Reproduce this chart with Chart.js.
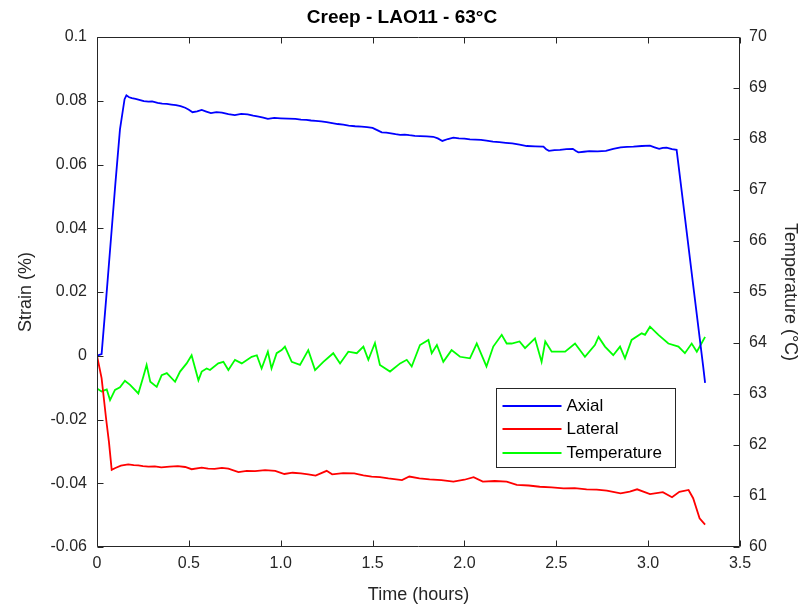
<!DOCTYPE html>
<html>
<head>
<meta charset="utf-8">
<script src="https://cdn.jsdelivr.net/npm/chart.js@4/dist/chart.umd.min.js"></script>
<style>
  html, body { margin: 0; padding: 0; background: #fff; }
</style>
</head>
<body>
<canvas id="myChart" width="804" height="609"></canvas>
<script>
// values
const axialHours = [0, 0.025, 0.05, 0.075, 0.1, 0.125, 0.15, 0.16, 0.175, 0.19, 0.21, 0.23, 0.255, 0.28, 0.3, 0.33, 0.355, 0.38, 0.405, 0.43, 0.455, 0.48, 0.5, 0.52, 0.545, 0.57, 0.595, 0.62, 0.65, 0.68, 0.715, 0.75, 0.785, 0.82, 0.85, 0.88, 0.905, 0.93, 0.965, 1.0, 1.04, 1.08, 1.11, 1.14, 1.165, 1.19, 1.22, 1.25, 1.28, 1.31, 1.34, 1.37, 1.405, 1.44, 1.47, 1.5, 1.525, 1.55, 1.575, 1.6, 1.625, 1.65, 1.675, 1.7, 1.73, 1.76, 1.795, 1.83, 1.855, 1.88, 1.91, 1.94, 1.97, 2.0, 2.03, 2.06, 2.09, 2.12, 2.155, 2.19, 2.225, 2.26, 2.3, 2.34, 2.385, 2.43, 2.445, 2.46, 2.49, 2.52, 2.555, 2.59, 2.605, 2.62, 2.65, 2.68, 2.725, 2.77, 2.81, 2.85, 2.885, 2.92, 2.965, 3.01, 3.035, 3.06, 3.08, 3.1, 3.13, 3.155, 3.2, 3.25, 3.3, 3.31];
const axialStrain = [0, 0.0005, 0.018, 0.036, 0.054, 0.071, 0.0805, 0.0817, 0.0811, 0.0808, 0.0806, 0.0803, 0.0799, 0.0797, 0.0798, 0.0793, 0.0791, 0.079, 0.0788, 0.0786, 0.0783, 0.0778, 0.0772, 0.0764, 0.0767, 0.0771, 0.0766, 0.0761, 0.0764, 0.0763, 0.0758, 0.0755, 0.0759, 0.0757, 0.0753, 0.075, 0.0747, 0.0743, 0.0746, 0.0745, 0.0744, 0.0743, 0.0741, 0.074, 0.0738, 0.0737, 0.0735, 0.0733, 0.073, 0.0727, 0.0725, 0.0722, 0.072, 0.0719, 0.0717, 0.0715, 0.0708, 0.0701, 0.07, 0.0698, 0.0695, 0.0693, 0.0694, 0.0692, 0.069, 0.0689, 0.0688, 0.0687, 0.0682, 0.0674, 0.068, 0.0684, 0.0682, 0.0681, 0.0679, 0.0678, 0.0677, 0.0675, 0.0672, 0.067, 0.0668, 0.0666, 0.0662, 0.0658, 0.0657, 0.0656, 0.0648, 0.0643, 0.0645, 0.0646, 0.0648, 0.0649, 0.0643, 0.0638, 0.064, 0.0642, 0.0641, 0.0643, 0.0649, 0.0654, 0.0655, 0.0656, 0.0658, 0.0659, 0.0654, 0.0649, 0.0652, 0.0653, 0.0648, 0.0646, 0.0435, 0.0199, -0.0036, -0.0085];

const lateralHours = [0, 0.025, 0.05, 0.065, 0.08, 0.1, 0.13, 0.17, 0.2, 0.225, 0.25, 0.28, 0.315, 0.35, 0.395, 0.44, 0.48, 0.515, 0.57, 0.605, 0.64, 0.68, 0.715, 0.77, 0.815, 0.86, 0.915, 0.97, 1.02, 1.065, 1.11, 1.15, 1.19, 1.25, 1.28, 1.34, 1.4, 1.45, 1.495, 1.54, 1.586, 1.66, 1.7, 1.755, 1.81, 1.875, 1.94, 2.0, 2.05, 2.1, 2.165, 2.23, 2.285, 2.35, 2.41, 2.475, 2.54, 2.6, 2.665, 2.72, 2.775, 2.85, 2.9, 2.94, 3.01, 3.08, 3.13, 3.17, 3.22, 3.245, 3.28, 3.31];
const lateralStrain = [0, -0.007, -0.02, -0.027, -0.0358, -0.0352, -0.0345, -0.0341, -0.0343, -0.0344, -0.0346, -0.0348, -0.0347, -0.035, -0.0348, -0.0346, -0.0349, -0.0356, -0.0351, -0.0354, -0.0355, -0.0352, -0.0354, -0.0365, -0.0361, -0.0362, -0.0359, -0.0361, -0.0371, -0.0367, -0.0369, -0.0372, -0.0376, -0.0361, -0.0372, -0.0368, -0.0369, -0.0375, -0.0379, -0.0381, -0.0385, -0.039, -0.0379, -0.0385, -0.0388, -0.039, -0.0395, -0.0389, -0.0381, -0.0395, -0.0393, -0.0395, -0.0405, -0.0407, -0.0411, -0.0413, -0.0416, -0.0415, -0.0419, -0.042, -0.0423, -0.0432, -0.0426, -0.0419, -0.0434, -0.0428, -0.0444, -0.0427, -0.0421, -0.0447, -0.051, -0.053];

const tempHours = [0, 0.025, 0.053, 0.071, 0.098, 0.125, 0.152, 0.18, 0.225, 0.252, 0.27, 0.29, 0.325, 0.352, 0.38, 0.425, 0.452, 0.488, 0.515, 0.552, 0.57, 0.597, 0.615, 0.66, 0.688, 0.715, 0.751, 0.788, 0.842, 0.87, 0.896, 0.93, 0.95, 0.978, 1.005, 1.023, 1.06, 1.105, 1.15, 1.187, 1.232, 1.286, 1.323, 1.368, 1.414, 1.45, 1.477, 1.513, 1.54, 1.595, 1.65, 1.686, 1.713, 1.758, 1.804, 1.822, 1.85, 1.885, 1.93, 1.976, 2.03, 2.067, 2.12, 2.157, 2.203, 2.23, 2.257, 2.3, 2.33, 2.384, 2.42, 2.44, 2.475, 2.548, 2.602, 2.656, 2.71, 2.73, 2.765, 2.81, 2.847, 2.874, 2.91, 2.965, 2.983, 3.01, 3.056, 3.11, 3.165, 3.2, 3.237, 3.265, 3.29, 3.31];
const tempC = [63.11, 63.05, 63.09, 62.88, 63.08, 63.13, 63.26, 63.18, 63.01, 63.34, 63.57, 63.24, 63.14, 63.37, 63.41, 63.24, 63.44, 63.6, 63.76, 63.27, 63.44, 63.5, 63.47, 63.6, 63.63, 63.47, 63.67, 63.6, 63.73, 63.76, 63.5, 63.83, 63.5, 63.8, 63.86, 63.93, 63.63, 63.57, 63.86, 63.47, 63.63, 63.8, 63.6, 63.83, 63.8, 63.93, 63.67, 64.0, 63.57, 63.44, 63.6, 63.67, 63.54, 63.96, 64.06, 63.8, 63.96, 63.63, 63.86, 63.73, 63.7, 63.99, 63.54, 63.93, 64.16, 63.99, 63.99, 64.03, 63.9, 64.09, 63.63, 64.03, 63.83, 63.83, 63.99, 63.73, 63.96, 64.12, 63.93, 63.76, 63.93, 63.7, 64.06, 64.19, 64.16, 64.32, 64.16, 63.99, 63.93, 63.8, 63.99, 63.83, 63.99, 64.12];

const seriesNames = ['Axial', 'Lateral', 'Temperature'];

const font = '"Liberation Sans", Arial, sans-serif';
const ink = '#262626';

function pts(xs, ys) {
  return xs.map((x, i) => ({ x: x, y: ys[i] }));
}

// matlab style box with inward ticks
const boxTicks = {
  id: 'boxTicks',
  afterDatasetsDraw(chart) {
    const c = chart.ctx, a = chart.chartArea, s = chart.scales;
    const L = Math.round(a.left) + 0.5, R = Math.round(a.right) - 0.5;
    const T = Math.round(a.top) + 0.5, B = Math.round(a.bottom) - 0.5;
    c.save();
    c.strokeStyle = ink;
    c.lineWidth = 1;
    c.beginPath();
    c.rect(L, T, R - L, B - T);
    s.x.ticks.forEach(t => {
      const px = Math.round(s.x.getPixelForValue(t.value)) + 0.5;
      c.moveTo(px, B); c.lineTo(px, B - 6);
      c.moveTo(px, T); c.lineTo(px, T + 6);
    });
    s.y.ticks.forEach(t => {
      const py = Math.round(s.y.getPixelForValue(t.value)) + 0.5;
      c.moveTo(L, py); c.lineTo(L + 6, py);
    });
    s.y1.ticks.forEach(t => {
      const py = Math.round(s.y1.getPixelForValue(t.value)) + 0.5;
      c.moveTo(R, py); c.lineTo(R - 6, py);
    });
    c.stroke();
    c.restore();
  }
};

const legendBox = {
  id: 'legendBox',
  afterDraw(chart) {
    const c = chart.ctx;
    const x = 496.5, y = 388.5, w = 179, h = 79;
    c.save();
    c.fillStyle = '#fff';
    c.fillRect(x, y, w, h);
    c.strokeStyle = ink;
    c.lineWidth = 1;
    c.strokeRect(x, y, w, h);
    c.font = '17px ' + font;
    c.textBaseline = 'middle';
    chart.data.datasets.forEach((ds, i) => {
      const ry = Math.round(y + 17 + i * 23.8);
      c.strokeStyle = ds.borderColor;
      c.lineWidth = 2;
      c.beginPath();
      c.moveTo(x + 6, ry);
      c.lineTo(x + 65, ry);
      c.stroke();
      c.fillStyle = '#000';
      c.fillText(ds.label, x + 70, ry);
    });
    c.restore();
  }
};

const ctx = document.getElementById('myChart');

new Chart(ctx, {
  type: 'line',
  data: {
    datasets: [{
      label: seriesNames[0],
      data: pts(axialHours, axialStrain),
      borderColor: '#0000ff',
      yAxisID: 'y'
    }, {
      label: seriesNames[1],
      data: pts(lateralHours, lateralStrain),
      borderColor: '#ff0000',
      yAxisID: 'y'
    }, {
      label: seriesNames[2],
      data: pts(tempHours, tempC),
      borderColor: '#00ff00',
      yAxisID: 'y1'
    }]
  },
  options: {
    responsive: false,
    animation: false,
    devicePixelRatio: 1,
    elements: {
      point: { radius: 0 },
      line: { borderWidth: 1.8, tension: 0 }
    },
    layout: { padding: 0 },
    plugins: {
      legend: { display: false },
      tooltip: { enabled: false },
      title: {
        display: true,
        text: 'Creep - LAO11 - 63°C',
        color: '#000',
        font: { family: font, size: 19, weight: 'bold' },
        padding: { top: 6, bottom: 8.2 }
      }
    },
    scales: {
      x: {
        type: 'linear',
        min: 0,
        max: 3.5,
        grid: { display: false, drawTicks: false },
        border: { display: false },
        ticks: { stepSize: 0.5, color: ink, padding: 7, maxRotation: 0, font: { family: font, size: 16 } },
        title: { display: true, text: 'Time (hours)', color: ink, font: { family: font, size: 18 }, padding: { top: 0, bottom: 3 } },
        afterFit: s => { s.height = 62; }
      },
      y: {
        position: 'left',
        min: -0.06,
        max: 0.1,
        grid: { display: false, drawTicks: false },
        border: { display: false },
        ticks: {
          stepSize: 0.02,
          color: ink,
          padding: 10,
          font: { family: font, size: 16 },
          callback: v => String(Number(v.toFixed(2)))
        },
        title: { display: true, text: 'Strain (%)', color: ink, font: { family: font, size: 18 }, padding: { top: 15, bottom: 0 } },
        afterFit: s => { s.width = 97; }
      },
      y1: {
        position: 'right',
        min: 60,
        max: 70,
        grid: { display: false, drawTicks: false },
        border: { display: false },
        ticks: { stepSize: 1, color: ink, padding: 9, font: { family: font, size: 16 } },
        title: { display: true, text: 'Temperature (°C)', color: ink, font: { family: font, size: 18 }, padding: { top: 3, bottom: 0 } },
        afterFit: s => { s.width = 64; }
      }
    }
  },
  plugins: [boxTicks, legendBox]
});
</script>
</body>
</html>
